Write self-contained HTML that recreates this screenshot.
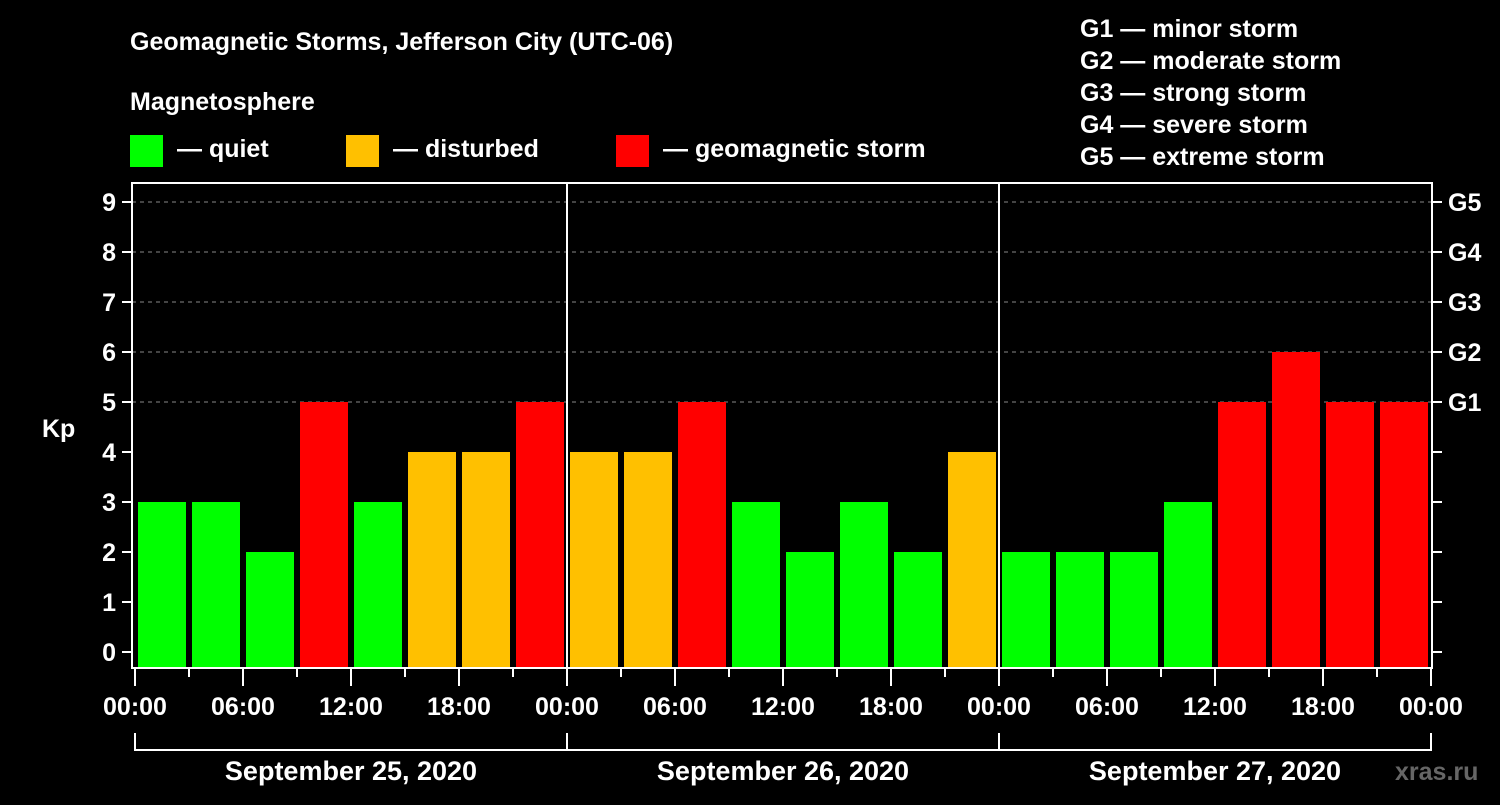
<!DOCTYPE html>
<html><head><meta charset="utf-8"><style>
body{margin:0;background:#000;width:1500px;height:800px;overflow:hidden}
svg text{font-family:"Liberation Sans",Arial,sans-serif;font-weight:bold;fill:#fff}
</style></head><body>
<svg id="chart" width="1500" height="800" xmlns="http://www.w3.org/2000/svg">
<text x="130" y="50" font-size="25">Geomagnetic Storms, Jefferson City (UTC-06)</text>
<text x="130" y="110" font-size="25">Magnetosphere</text>
<g>
<rect x="130" y="135" width="33" height="32" fill="#00ff00"/>
<text x="177" y="157" font-size="25">— quiet</text>
<rect x="346" y="135" width="33" height="32" fill="#ffc000"/>
<text x="393" y="157" font-size="25">— disturbed</text>
<rect x="616" y="135" width="33" height="32" fill="#ff0000"/>
<text x="663" y="157" font-size="25">— geomagnetic storm</text>
</g>
<g font-size="25">
<text x="1080" y="37">G1 — minor storm</text>
<text x="1080" y="69">G2 — moderate storm</text>
<text x="1080" y="101">G3 — strong storm</text>
<text x="1080" y="133">G4 — severe storm</text>
<text x="1080" y="165">G5 — extreme storm</text>
</g>
<g id="grid"></g><g id="bars"></g><g id="axes"></g>
<text x="42" y="437" font-size="25">Kp</text>
<text x="1395" y="780" font-size="25" fill="#555" style="fill:#666">xras.ru</text>
</svg>
<script>
const kpValues=[3,3,2,5,3,4,4,5, 4,4,5,3,2,3,2,4, 2,2,2,3,5,6,5,5];
const dayLabels=["September 25, 2020","September 26, 2020","September 27, 2020"];
const hourLabels=["00:00","06:00","12:00","18:00"];
const gLabels=["G1","G2","G3","G4","G5"];
const NS="http://www.w3.org/2000/svg";
const X0=135,DAY=432,L=132,R=1432,T=183,B=668;
const xs=h=>X0+h*DAY/24;
const ys=v=>652-v*50;
function mk(tag,attrs,parent){const e=document.createElementNS(NS,tag);for(const k in attrs)e.setAttribute(k,attrs[k]);parent.appendChild(e);return e;}
const grid=document.getElementById('grid'),bars=document.getElementById('bars'),axes=document.getElementById('axes');
for(let v=5;v<=9;v++){const g=mk('line',{x1:L,x2:R,y1:ys(v),y2:ys(v),stroke:'#888','stroke-dasharray':'4,4','stroke-width':1},grid);
}
kpValues.forEach((v,i)=>{const c=v>=5?'#ff0000':v>=4?'#ffc000':'#00ff00';
const r=mk('rect',{x:xs(i*3)+3,y:ys(v),width:48,height:B-ys(v),fill:c},bars);
});
const fr=mk('rect',{x:L,y:T,width:R-L,height:B-T,fill:'none',stroke:'#fff','stroke-width':2},axes);

for(let d=1;d<3;d++){const l=mk('line',{x1:xs(d*24),x2:xs(d*24),y1:T,y2:B,stroke:'#fff','stroke-width':2},axes);
}
for(let v=0;v<=9;v++){
mk('line',{x1:L-10,x2:L,y1:ys(v),y2:ys(v),stroke:'#fff','stroke-width':2},axes);
mk('line',{x1:R,x2:R+10,y1:ys(v),y2:ys(v),stroke:'#fff','stroke-width':2},axes);
const t=mk('text',{x:L-16,y:ys(v)+9,'font-size':25,'text-anchor':'end'},axes);t.textContent=v;
}
gLabels.forEach((g,i)=>{const t=mk('text',{x:R+16,y:ys(5+i)+9,'font-size':25},axes);t.textContent=g;
});
for(let h=0;h<=72;h+=3){mk('line',{x1:xs(h),x2:xs(h),y1:B,y2:h%6==0?686:677,stroke:'#fff','stroke-width':2},axes);}
for(let h=0;h<=72;h+=6){const t=mk('text',{x:xs(h),y:715,'font-size':25,'text-anchor':'middle'},axes);t.textContent=hourLabels[(h/6)%4];
}
mk('polyline',{points:`${xs(0)},733 ${xs(0)},750 ${xs(72)},750 ${xs(72)},733`,fill:'none',stroke:'#fff','stroke-width':2},axes);
for(let d=1;d<3;d++)mk('line',{x1:xs(d*24),x2:xs(d*24),y1:733,y2:750,stroke:'#fff','stroke-width':2},axes);
dayLabels.forEach((s,d)=>{const t=mk('text',{x:xs(d*24+12),y:780,'font-size':27,'text-anchor':'middle'},axes);t.textContent=s;
});
</script>
</body></html>
